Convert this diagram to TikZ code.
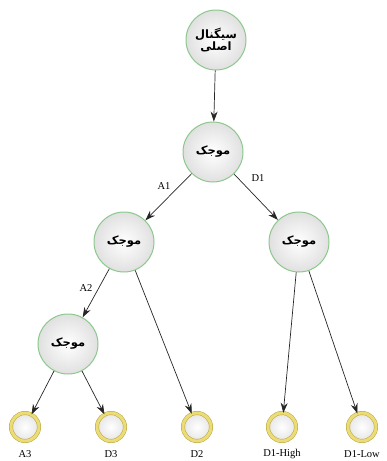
\documentclass[tikz,border=0pt]{standalone}
\usepackage{fontspec}
\setmainfont{Liberation Serif}
\newfontfamily\fa[Script=Arabic]{DejaVu Sans}
\TeXXeTstate=1
\usetikzlibrary{arrows.meta}
\definecolor{gborder}{RGB}{140,200,140}
\definecolor{yout}{RGB}{185,165,60}
\definecolor{yin}{RGB}{235,220,120}
\tikzset{
  proc/.style={circle, minimum size=60pt, inner sep=0pt, draw=gborder, line width=1pt,
    inner color=white, outer color=black!12, font=\fa\bfseries\fontsize{11.5}{13}\selectfont, align=center},
  leaf/.style={circle, minimum size=28pt, inner sep=0pt, draw=yout, line width=0.5pt,
    double=yin, double distance=3pt, inner color=white, outer color=black!10},
  lbl/.style={font=\fontsize{10.5}{12}\selectfont},
  conn/.style={draw=black!85, line width=0.7pt, -{Stealth[length=10pt,width=7pt]}}
}
\begin{document}
\begin{tikzpicture}[x=1pt,y=-1pt]
\useasboundingbox (0,0) rectangle (387,461);
\node[proc] (s) at (216,40) {\beginR سیگنال\endR\\[-1pt]\beginR اصلی\endR};
\node[proc] (m1) at (213,152) {\beginR موجک\endR};
\node[proc] (m2l) at (124,242) {\beginR موجک\endR};
\node[proc] (m2r) at (299,242) {\beginR موجک\endR};
\node[proc] (m3) at (68,344) {\beginR موجک\endR};
\node[leaf] (a3) at (25,427) {};
\node[leaf] (d3) at (111,427) {};
\node[leaf] (d2) at (197,427) {};
\node[leaf] (dh) at (282,427) {};
\node[leaf] (dl) at (362,427) {};
\node[lbl] (la3) at (25,454) {A3};
\node[lbl] (ld3) at (111,454) {D3};
\node[lbl] (ld2) at (197,454) {D2};
\node[lbl] (ldh) at (282,454) {D1-High};
\node[lbl] (ldl) at (362,454) {D1-Low};
\draw[conn] (s) -- (m1);
\draw[conn] (m1) -- (m2l);
\draw[conn] (m1) -- (m2r);
\draw[conn] (m2l) -- (m3);
\draw[conn] (m2l) -- (d2);
\draw[conn] (m2r) -- (dh);
\draw[conn] (m2r) -- (dl);
\draw[conn] (m3) -- (a3);
\draw[conn] (m3) -- (d3);
\node[lbl] (ta1) at (164,186) {A1};
\node[lbl] (td1) at (258,178) {D1};
\node[lbl] (ta2) at (86,288) {A2};
\end{tikzpicture}
\end{document}
